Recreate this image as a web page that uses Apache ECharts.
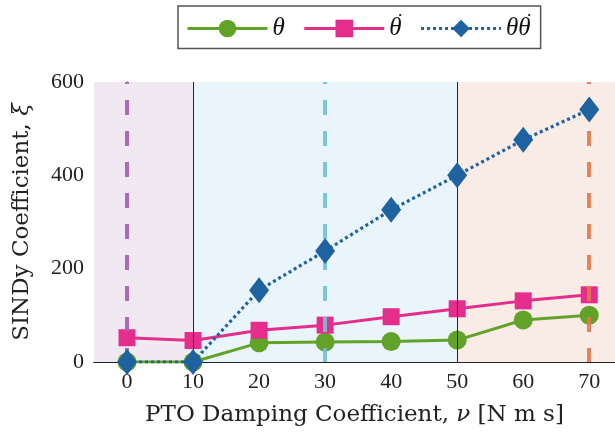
<!DOCTYPE html>
<html><head><meta charset="utf-8">
<script src="https://cdn.jsdelivr.net/npm/echarts@6/dist/echarts.min.js"></script>
<style>html,body{margin:0;padding:0;background:#fff}#c{width:615px;height:432px}</style>
</head><body><div id="c"></div>
<script>
const xValues = [0, 10, 20, 30, 40, 50, 60, 70];
const theta = [0, 0, 41, 43, 44, 47, 90, 100];
const thetaDot = [52, 46, 68, 79, 97, 114, 131, 144];
const thetaThetaDot = [0, 0, 154, 238, 326, 400, 476, 541];
const seriesNames = ['θ', 'θ̇', 'θθ̇'];
const legendLabels = ['{t|θ}', '{d|•}\n{t|θ}\n{e|}', '{d|•}\n{t|θθ}\n{e|}'];
const regionBounds = [-5, 10, 50, 73.9];
const regionColors = ['#f1e9f1', '#eaf4fb', '#f9ece6'];
const boundaryLinesX = [10, 50];
const dashedLinesX = [0, 30, 70];
const dashedColors = ['#a25db4', '#6ec2dc', '#e07a4a'];

const serif = 'Liberation Serif';
const titleFont = 'DejaVu Serif';
const pairs = ys => xValues.map((x, i) => [x, ys[i]]);

const chart = echarts.init(document.getElementById('c'), null, {renderer: 'canvas'});
chart.setOption({
  animation: false,
  backgroundColor: '#fff',
  grid: {left: 94, top: 82, right: 0, height: 280, show: false, containLabel: false},
  legend: {
    left: 178, top: 6,
    data: seriesNames,
    itemWidth: 80, itemHeight: 22, itemGap: 18,
    padding: [5, 10, 5, 8],
    borderColor: '#555', borderWidth: 1.5,
    lineStyle: {width: 3},
    formatter: name => legendLabels[seriesNames.indexOf(name)],
    textStyle: {
      fontFamily: serif, fontStyle: 'italic', fontSize: 25, color: '#111',
      rich: {
        t: {fontFamily: serif, fontStyle: 'italic', fontSize: 25, lineHeight: 22, color: '#111'},
        d: {fontFamily: serif, fontSize: 9, lineHeight: 4, width: 12, align: 'right', color: '#111'},
        e: {fontSize: 4, lineHeight: 4}
      }
    }
  },
  xAxis: [{
    type: 'value', min: -5, max: 73.9, minInterval: 10, maxInterval: 10,
    name: 'PTO Damping Coefficient, {i|ν} [N m s]',
    nameLocation: 'middle', nameGap: 42,
    nameTextStyle: {fontFamily: titleFont, fontSize: 23, color: '#222', rich: {i: {fontFamily: titleFont, fontStyle: 'italic', fontSize: 23, color: '#222'}}},
    axisLine: {show: true, onZero: false, lineStyle: {color: '#222', width: 1}},
    axisTick: {show: true, inside: true, length: 5, lineStyle: {color: '#444'}},
    axisLabel: {showMinLabel: false, showMaxLabel: false, fontFamily: serif, fontSize: 22, color: '#222', margin: 9},
    splitLine: {show: true, lineStyle: {color: '#d4d8dc', width: 1}}
  }, {
    type: 'value', position: 'top', min: -5, max: 73.9,
    axisLine: {show: true, lineStyle: {color: '#222', width: 1}},
    axisTick: {show: false}, axisLabel: {show: false}, splitLine: {show: false}
  }],
  yAxis: {
    type: 'value', min: 0, max: 600, interval: 200,
    name: 'SINDy Coefficient, {i|ξ}',
    nameLocation: 'middle', nameGap: 60,
    nameTextStyle: {fontFamily: titleFont, fontSize: 23, color: '#222', rich: {i: {fontFamily: titleFont, fontStyle: 'italic', fontSize: 23, color: '#222'}}},
    axisLine: {show: true, lineStyle: {color: '#222', width: 1}},
    axisTick: {show: true, inside: true, length: 5, lineStyle: {color: '#444'}},
    axisLabel: {fontFamily: serif, fontSize: 22, color: '#222', margin: 10},
    splitLine: {show: true, lineStyle: {color: '#d4d8dc', width: 1}}
  },
  series: [
    {
      type: 'line', name: '_bg', data: [], silent: true, z: 0,
      markArea: {
        silent: true,
        data: regionColors.map((c, i) => [{xAxis: regionBounds[i], itemStyle: {color: c}}, {xAxis: regionBounds[i + 1]}])
      }
    },
    {
      type: 'line', name: seriesNames[0], data: pairs(theta), z: 3,
      symbol: 'circle', symbolSize: 19,
      lineStyle: {color: '#62a229', width: 3}, itemStyle: {color: '#62a229'}
    },
    {
      type: 'line', name: seriesNames[1], data: pairs(thetaDot), z: 4,
      symbol: 'rect', symbolSize: 17,
      lineStyle: {color: '#e52d8b', width: 3}, itemStyle: {color: '#e52d8b'}
    },
    {
      type: 'line', name: seriesNames[2], data: pairs(thetaThetaDot), z: 5,
      symbol: 'diamond', symbolSize: [20, 26],
      lineStyle: {color: '#1f62a0', width: 3.2, type: [3, 3]}, itemStyle: {color: '#1f62a0'}
    },
    {
      type: 'line', name: '_lines', data: [], silent: true, z: 8,
      markLine: {
        silent: true, symbol: 'none', label: {show: false},
        data: boundaryLinesX.map(x => ({xAxis: x, lineStyle: {color: '#222', width: 1, type: 'solid'}}))
          .concat(dashedLinesX.map((x, i) => ({xAxis: x, lineStyle: {color: dashedColors[i], width: 4, type: [15, 16], dashOffset: 1, opacity: 0.9}})))
      }
    }
  ]
});
</script></body></html>
